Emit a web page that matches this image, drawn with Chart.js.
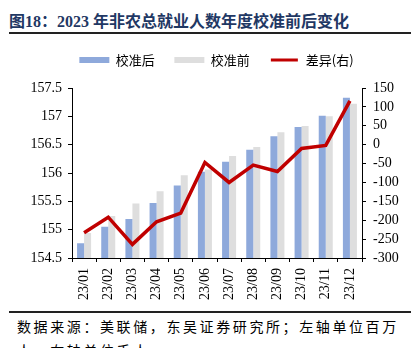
<!DOCTYPE html>
<html>
<head>
<meta charset="utf-8">
<script src="https://cdn.jsdelivr.net/npm/chart.js@4"></script>
<style>
  body { margin: 0; width: 415px; height: 348px; overflow: hidden; background: #fff; position: relative;
         font-family: "Liberation Serif", "Noto Sans CJK SC", serif; }
  #title { position: absolute; left: 9px; top: 8px; font-size: 16px; font-weight: bold; color: #1F3864; white-space: nowrap; }
  .rule { position: absolute; left: 9px; width: 402px; height: 2px; background: #222; }
  #foot { position: absolute; left: 17px; top: 316px; font-size: 14px; line-height: 24px; letter-spacing: 2.6px; color: #000; white-space: nowrap; }
  #box { position: absolute; left: 0; top: 34px; width: 415px; height: 271px; }
</style>
</head>
<body>
<div id="title">图18：2023 年非农总就业人数年度校准前后变化</div>
<div class="rule" style="top:32px"></div>
<div id="box"><canvas id="c"></canvas></div>
<div class="rule" style="top:311px"></div>
<div id="foot">数据来源：美联储，东吴证券研究所；左轴单位百万<br>人，右轴单位千人</div>
<script>
// months
const labels = ['23/01', '23/02', '23/03', '23/04', '23/05', '23/06', '23/07', '23/08', '23/09', '23/10', '23/11', '23/12'];
// total nonfarm employment, millions (left axis)
const afterRevision = [154.76, 155.05, 155.19, 155.47, 155.78, 156.02, 156.20, 156.41, 156.65, 156.81, 157.01, 157.33];
const beforeRevision = [154.94, 155.24, 155.46, 155.68, 155.96, 156.06, 156.30, 156.46, 156.72, 156.83, 157.00, 157.22];
// difference, thousands (right axis)
const diff = [-233, -192, -264, -204, -181, -47, -100, -54, -71, -10, -2, 116];

const tickFont = { family: 'Liberation Serif', size: 14 };

// push chart area down a bit below the legend
const legendGap = {
  id: 'legendGap',
  beforeInit(chart) {
    const fit = chart.legend.fit;
    chart.legend.fit = function () {
      fit.bind(chart.legend)();
      this.height += 11.5;
    };
  }
};

// line dataset is index 0 (drawn on top) but listed last in the legend
const legendKey = i => (i === 0 ? 99 : i);

new Chart(document.getElementById('c'), {
  type: 'bar',
  data: {
    labels: labels,
    datasets: [
      {
        type: 'line',
        label: '差异(右)',
        data: diff,
        yAxisID: 'y1',
        borderColor: '#C00000',
        backgroundColor: '#C00000',
        borderWidth: 3.5,
        pointRadius: 0,
        tension: 0,
        order: 0
      },
      {
        label: '校准后',
        data: afterRevision,
        yAxisID: 'y',
        backgroundColor: '#8EA9DB',
        categoryPercentage: 0.58,
        barPercentage: 1,
        order: 1
      },
      {
        label: '校准前',
        data: beforeRevision,
        yAxisID: 'y',
        backgroundColor: '#DEDEDE',
        categoryPercentage: 0.58,
        barPercentage: 1,
        order: 1
      }
    ]
  },
  options: {
    responsive: true,
    maintainAspectRatio: false,
    animation: false,
    layout: { padding: { left: 18, right: 0, top: 0, bottom: 0 } },
    plugins: {
      tooltip: { enabled: false },
      legend: {
        position: 'top',
        labels: {
          font: { family: 'Noto Sans CJK SC', size: 13 },
          color: '#000',
          boxWidth: 30,
          boxHeight: 6,
          padding: 19.5,
          sort: (a, b) => legendKey(a.datasetIndex) - legendKey(b.datasetIndex),
          generateLabels(chart) {
            const items = Chart.defaults.plugins.legend.labels.generateLabels(chart);
            items.forEach(it => {
              if (it.datasetIndex === 0) {
                it.strokeStyle = '#fff';
                it.lineWidth = 3;
              } else {
                it.lineWidth = 0;
              }
            });
            return items;
          }
        }
      }
    },
    scales: {
      x: {
        grid: { display: true, drawOnChartArea: false, drawTicks: true, tickLength: 4, color: '#000', offset: true },
        border: { display: true, color: '#000' },
        ticks: { font: tickFont, color: '#000', minRotation: 90, maxRotation: 90, padding: 6, autoSkip: false },
        afterFit(scale) { scale.height = 47; }
      },
      y: {
        position: 'left',
        min: 154.5,
        max: 157.5,
        grid: { display: true, drawOnChartArea: false, drawTicks: true, tickLength: 4, color: '#000' },
        border: { display: true, color: '#000' },
        ticks: {
          stepSize: 0.5, font: tickFont, color: '#000', padding: 6, autoSkip: false,
          callback: v => String(Math.round(v * 10) / 10)
        },
        afterFit(scale) { scale.width = 54; }
      },
      y1: {
        position: 'right',
        min: -300,
        max: 150,
        grid: { display: true, drawOnChartArea: false, drawTicks: true, tickLength: 4, color: '#000' },
        border: { display: true, color: '#000' },
        ticks: { stepSize: 50, font: tickFont, color: '#000', padding: 7, autoSkip: false },
        afterFit(scale) { scale.width = 53; }
      }
    }
  },
  plugins: [legendGap]
});
</script>
</body>
</html>
